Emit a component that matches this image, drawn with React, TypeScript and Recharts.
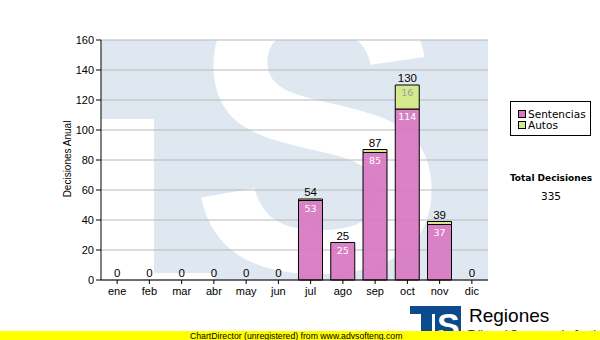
import { ComposedChart, Bar, Line, XAxis, YAxis, CartesianGrid, LabelList } from "recharts";

// values
const months = ["ene", "feb", "mar", "abr", "may", "jun", "jul", "ago", "sep", "oct", "nov", "dic"];
const sentencias = [0, 0, 0, 0, 0, 0, 53, 25, 85, 114, 37, 0];
const autos = [0, 0, 0, 0, 0, 0, 1, 0, 2, 16, 2, 0];
const totals = [0, 0, 0, 0, 0, 0, 54, 25, 87, 130, 39, 0];
const yTicks = [0, 20, 40, 60, 80, 100, 120, 140, 160];
const totalDecisiones = 335;

const PINK = "#d777c0";
const GREEN = "#d4e88e";
const WM = "#dfe8f1";
const LOGO = "#0b4a8c";

const rows = months.map((m, i) => ({
  month: m,
  sentencias: sentencias[i],
  autos: autos[i],
  total: totals[i],
}));

const sans = "'Liberation Sans', Arial, sans-serif";
const verdana = "'DejaVu Sans', Verdana, sans-serif";

// label inside the top of a segment, skipped when the segment is too thin
const innerLabel = (minValue: number, color: string) => (props: any) => {
  const { x, y, width, value } = props;
  if (!(Number(value) >= minValue)) return null;
  return (
    <text
      x={Number(x) + Number(width) / 2}
      y={Number(y) + 11}
      textAnchor="middle"
      fontSize={9.5}
      fontFamily={verdana}
      fill={color}
    >
      {value}
    </text>
  );
};

export default function App() {
  return (
    <div
      style={{
        position: "absolute",
        left: 0,
        top: 0,
        width: 600,
        height: 340,
        background: "#fff",
        overflow: "hidden",
        fontFamily: sans,
      }}
    >
      {/* watermark behind the plot area */}
      <svg width={600} height={340} style={{ position: "absolute", left: 0, top: 0 }}>
        <defs>
          <clipPath id="plotClip">
            <rect x={101} y={40} width={387} height={240} />
          </clipPath>
        </defs>
        <g clipPath="url(#plotClip)">
          <rect x={101} y={40} width={387} height={240} fill={WM} />
          <rect x={101} y={119} width={53} height={161} fill="#fff" />
          <rect x={154} y={273} width={60} height={7} fill="#fff" />
          <text
            x={0}
            y={0}
            transform="translate(190,270) scale(0.95,1)"
            fontSize={405}
            fontWeight="bold"
            fontFamily={sans}
            fill="#fff"
          >
            S
          </text>
        </g>
      </svg>

      <div style={{ position: "absolute", left: 0, top: 0 }}>
        <ComposedChart
          width={600}
          height={340}
          data={rows}
          margin={{ top: 40, right: 112, left: 0, bottom: 30 }}
          barSize={24}
        >
          <CartesianGrid horizontal vertical={false} stroke="#b8b8b8" />
          <XAxis
            dataKey="month"
            height={30}
            tickSize={4}
            tickMargin={3}
            axisLine={{ stroke: "#000" }}
            tickLine={{ stroke: "#000" }}
            tick={{ fontSize: 11, fill: "#000", fontFamily: sans }}
            interval={0}
          />
          <XAxis
            xAxisId="top"
            dataKey="month"
            orientation="top"
            height={0}
            tick={false}
            tickLine={false}
            axisLine={{ stroke: "#000" }}
          />
          <YAxis
            width={101}
            domain={[0, 160]}
            ticks={yTicks}
            interval={0}
            tickSize={5}
            tickMargin={2}
            axisLine={{ stroke: "#000" }}
            tickLine={{ stroke: "#000" }}
            tick={{ fontSize: 11, fill: "#000", fontFamily: sans }}
          />
          <YAxis
            yAxisId="right"
            orientation="right"
            width={0}
            domain={[0, 160]}
            tick={false}
            tickLine={false}
            axisLine={{ stroke: "#000" }}
          />
          <Bar
            dataKey="sentencias"
            name="Sentencias"
            stackId="a"
            fill={PINK}
            fillOpacity={0.92}
            stroke="#000"
            strokeWidth={1}
            isAnimationActive={false}
          >
            <LabelList dataKey="sentencias" content={innerLabel(1, "#fff")} />
          </Bar>
          <Bar
            dataKey="autos"
            name="Autos"
            stackId="a"
            fill={GREEN}
            stroke="#000"
            strokeWidth={1}
            isAnimationActive={false}
          >
            <LabelList dataKey="autos" content={innerLabel(5, "#a0a0a0")} />
          </Bar>
          {/* invisible series that only carries the stack totals */}
          <Line
            dataKey="total"
            stroke="none"
            dot={false}
            activeDot={false}
            legendType="none"
            isAnimationActive={false}
          >
            <LabelList
              dataKey="total"
              position="top"
              offset={3}
              fill="#000"
              stroke="none"
              fontSize={11.5}
              fontFamily={sans}
            />
          </Line>
        </ComposedChart>
      </div>

      {/* axis title, legend, total and footer */}
      <svg
        width={600}
        height={340}
        style={{ position: "absolute", left: 0, top: 0, pointerEvents: "none" }}
      >
        <text
          x={0}
          y={0}
          transform="translate(67,159) rotate(-90)"
          textAnchor="middle"
          dominantBaseline="central"
          fontSize={10}
          fontFamily={sans}
          fill="#000"
        >
          Decisiones Anual
        </text>

        <rect x={510.5} y={101.5} width={80} height={34} fill="#fff" stroke="#000" />
        <rect x={518.5} y={110.5} width={7} height={7} fill={PINK} stroke="#000" />
        <text x={528} y={117.5} fontSize={10.5} fontFamily={verdana} fill="#000">
          Sentencias
        </text>
        <rect x={518.5} y={121.5} width={7} height={7} fill={GREEN} stroke="#000" />
        <text x={528} y={128.5} fontSize={10.5} fontFamily={verdana} fill="#000">
          Autos
        </text>

        <text
          x={551}
          y={181}
          textAnchor="middle"
          fontSize={9}
          fontWeight="bold"
          fontFamily={verdana}
          fill="#000"
        >
          Total Decisiones
        </text>
        <text x={551} y={200} textAnchor="middle" fontSize={10.5} fontFamily={verdana} fill="#000">
          {totalDecisiones}
        </text>

        {/* logo */}
        <g fill={LOGO}>
          <rect x={410} y={306} width={26} height={8} />
          <rect x={421} y={306} width={11} height={34} />
          <rect x={435} y={306} width={26} height={34} />
        </g>
        <text x={437} y={337} fontSize={34} fontWeight="bold" fontFamily={sans} fill="#fff">
          S
        </text>
        <text x={469} y={322} fontSize={19} fontFamily={sans} fill="#000">
          Regiones
        </text>
        <text x={468} y={338} fontSize={11} fontFamily={sans} fill="#222">
          Tribunal Supremo de Justicia
        </text>

        <rect x={0} y={331} width={600} height={9} fill="#ffff00" />
        <text x={190} y={339} fontSize={8.7} fontFamily={sans} fill="#000">
          ChartDirector (unregistered) from www.advsofteng.com
        </text>
      </svg>
    </div>
  );
}
